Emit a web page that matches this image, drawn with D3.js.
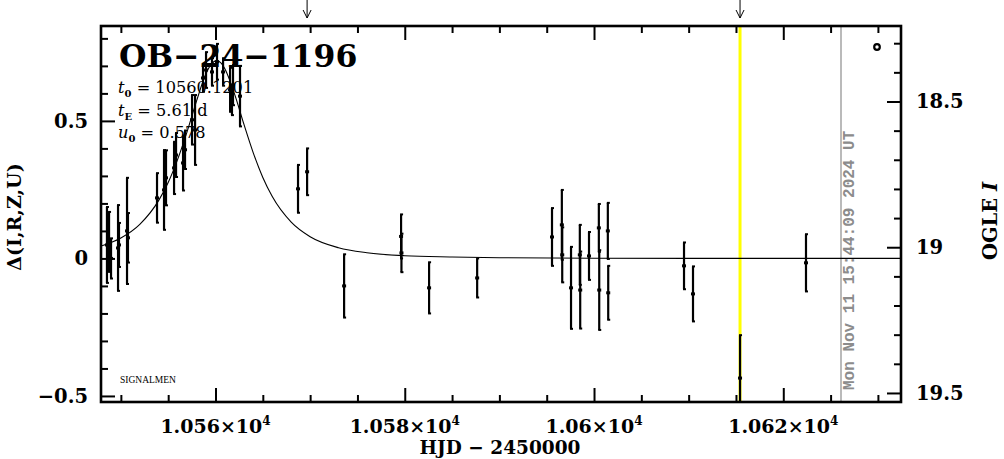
<!DOCTYPE html>
<html><head><meta charset="utf-8">
<script src="https://cdn.jsdelivr.net/npm/d3@7"></script>
<style>body{margin:0;background:#fff} svg{display:block}</style>
</head><body>
<svg id="c" width="1004" height="459"></svg>
<script>
// ---- data ----
const hjd = [10548.53,10548.75,10548.96,10549.70,10549.80,10550.65,10550.75,
  10553.82,10554.56,10554.77,10555.62,10555.83,10556.57,10556.78,10557.52,10557.84,
  10558.68,10559.00,10559.63,10560.16,10560.80,10561.54,10561.74,10561.85,10562.59,
  10568.72,10569.68,10573.59,10579.61,10579.65,10582.57,10587.65,
  10595.56,10596.60,10596.64,10597.57,10598.50,10598.54,10599.47,10600.51,10600.55,10601.46,10601.50,
  10609.51,10610.46,10615.43,10622.40];
const delta = [0.049,0.060,0.000,0.038,0.049,0.100,0.075,
  0.220,0.249,0.293,0.329,0.376,0.347,0.395,0.504,0.467,
  0.656,0.685,0.678,0.715,0.678,0.613,0.576,0.630,0.590,
  0.253,0.315,-0.100,0.080,0.020,-0.107,-0.071,
  0.078,0.122,0.013,-0.107,0.013,-0.115,0.009,0.111,-0.115,0.100,-0.125,
  -0.027,-0.129,-0.435,-0.016];
const err = [0.138,0.109,0.073,0.156,0.080,0.193,0.090,
  0.090,0.145,0.100,0.095,0.080,0.100,0.070,0.090,0.127,
  0.050,0.065,0.050,0.065,0.050,0.080,0.055,0.073,0.110,
  0.087,0.085,0.115,0.080,0.070,0.093,0.071,
  0.105,0.127,0.100,0.149,0.109,0.140,0.087,0.087,0.145,0.102,0.098,
  0.085,0.100,0.156,0.104];
// model curve samples
const modelT = [10547.9,10548,10550,10552,10554,10555,10556,10557,10558,10559,10559.6,10560.12,10560.6,10561,10562,10563,10564,10565,10566,10568,10570,10573,10576,10580,10585,10590,10600,10620,10632.44];
const modelD = [0.0452,0.0463,0.0743,0.1238,0.211,0.276,0.360,0.461,0.573,0.672,0.708,0.719,0.710,0.689,0.599,0.488,0.383,0.2945,0.225,0.132,0.079,0.0389,0.0207,0.0099,0.0054,0.0026,0.0008,0.0001,0];

const xMajor = [10560,10580,10600,10620];
const xMajorLabels = ["1.056","1.058","1.06","1.062"];
const xMinor = [10550,10555,10565,10570,10575,10585,10590,10595,10605,10610,10615,10625,10630];
const yMajor = [-0.5,0,0.5];
const yLabels = ["\u22120.5","0","0.5"];
const yMinor = [-0.4,-0.3,-0.2,-0.1,0.1,0.2,0.3,0.4,0.6,0.7,0.8];
const iMajor = [18.5,19,19.5];
const iLabels = ["18.5","19","19.5"];
const iMinor = [18.3,18.4,18.6,18.7,18.8,18.9,19.1,19.2,19.3,19.4];
const arrowT = [10569.68,10615.43];
const nowT = 10615.43;
const stampT = 10626.1;
const title = "OB\u221224\u22121196";
const params = [["t","0"," = 10560.1201"],["t","E"," = 5.61 d"],["u","0"," = 0.578"]];
const stamp = "Mon Nov 11 15:44:09 2024 UT";

// ---- layout ----
const L=101,R=901,T=26,B=402;
const svg = d3.select("#c");
const x = d3.scaleLinear().domain([10547.9,10632.44]).range([L,R]);
const y = d3.scaleLinear().domain([0.845,-0.522]).range([T,B]);
const yI = d3.scaleLinear().domain([18.241,19.531]).range([T,B]);
const serif = "'DejaVu Serif', serif";

svg.append("defs").append("clipPath").attr("id","pc")
  .append("rect").attr("x",L).attr("y",T).attr("width",R-L).attr("height",B-T);

// yellow "now" line
svg.append("line").attr("x1",x(nowT)).attr("x2",x(nowT)).attr("y1",T).attr("y2",B)
  .attr("stroke","#ffff00").attr("stroke-width",3);
// gray timestamp line
svg.append("line").attr("x1",x(stampT)).attr("x2",x(stampT)).attr("y1",T).attr("y2",B)
  .attr("stroke","#8c8c8c").attr("stroke-width",1.2);
svg.append("text").attr("transform",`translate(${x(stampT)+13},390) rotate(-90)`)
  .attr("font-family","'Liberation Mono', monospace").attr("font-weight","bold")
  .attr("font-size",16).attr("fill","#8c8c8c").text(stamp);

// model curve
const g = svg.append("g").attr("clip-path","url(#pc)");
g.append("path").datum(modelT.map((t,i)=>[t,modelD[i]]))
  .attr("d",d3.line().x(d=>x(d[0])).y(d=>y(d[1])).curve(d3.curveMonotoneX))
  .attr("fill","none").attr("stroke","#000").attr("stroke-width",1.1);

// data with error bars
const pts = hjd.map((t,i)=>({t,d:delta[i],e:err[i]}));
const pg = g.selectAll("g.p").data(pts).enter().append("g");
pg.append("line").attr("x1",d=>x(d.t)).attr("x2",d=>x(d.t))
  .attr("y1",d=>y(d.d+d.e)).attr("y2",d=>y(d.d-d.e))
  .attr("stroke","#000").attr("stroke-width",2.2);
pg.append("line").attr("x1",d=>x(d.t)-1).attr("x2",d=>x(d.t)+2)
  .attr("y1",d=>y(d.d+d.e)).attr("y2",d=>y(d.d+d.e)).attr("stroke","#000").attr("stroke-width",2);
pg.append("line").attr("x1",d=>x(d.t)-1).attr("x2",d=>x(d.t)+2)
  .attr("y1",d=>y(d.d-d.e)).attr("y2",d=>y(d.d-d.e)).attr("stroke","#000").attr("stroke-width",2);
pg.append("rect").attr("x",d=>x(d.t)-2).attr("y",d=>y(d.d)-1.5).attr("width",4).attr("height",3).attr("fill","#000");

// legend circle
svg.append("circle").attr("cx",877).attr("cy",47).attr("r",2.8)
  .attr("fill","none").attr("stroke","#000").attr("stroke-width",2.2);

// ---- axes ticks ----
function ticks(axis, tr, vals, size){
  const a = svg.append("g").attr("transform",tr)
    .call(axis.tickValues(vals).tickSize(size).tickFormat(""));
  a.select(".domain").remove();
  a.selectAll("line").attr("stroke","#000").attr("stroke-width",2);
}
ticks(d3.axisBottom(x), `translate(0,${B})`, xMajor, -14);
ticks(d3.axisBottom(x), `translate(0,${B})`, xMinor, -7);
ticks(d3.axisTop(x), `translate(0,${T})`, xMajor, -14);
ticks(d3.axisTop(x), `translate(0,${T})`, xMinor, -7);
ticks(d3.axisLeft(y), `translate(${L},0)`, yMajor, -14);
ticks(d3.axisLeft(y), `translate(${L},0)`, yMinor, -7);
ticks(d3.axisRight(yI), `translate(${R},0)`, iMajor, -14);
ticks(d3.axisRight(yI), `translate(${R},0)`, iMinor, -7);

// frame
svg.append("rect").attr("x",L).attr("y",T).attr("width",R-L).attr("height",B-T)
  .attr("fill","none").attr("stroke","#000").attr("stroke-width",2.6);

// arrows at top
arrowT.forEach(t=>{
  const ax=x(t);
  svg.append("path").attr("d",`M${ax},0 L${ax},18 M${ax-4},10 L${ax},18 L${ax+4},10`)
    .attr("fill","none").attr("stroke","#000").attr("stroke-width",1);
});

// ---- labels ----
const fs=19.5;
xMajor.forEach((v,i)=>{
  const t = svg.append("text").attr("x",x(v)).attr("y",433).attr("text-anchor","middle")
    .attr("font-family",serif).attr("font-weight","bold").attr("font-size",19);
  t.append("tspan").text(xMajorLabels[i]+"\u00d710");
  t.append("tspan").attr("font-size",12).attr("dy",-8).text("4");
});
yMajor.forEach((v,i)=>{
  svg.append("text").attr("x",88).attr("y",y(v)+7).attr("text-anchor","end")
    .attr("font-family",serif).attr("font-weight","bold").attr("font-size",fs).text(yLabels[i]);
});
iMajor.forEach((v,i)=>{
  svg.append("text").attr("x",916).attr("y",yI(v)+7).attr("text-anchor","start")
    .attr("font-family",serif).attr("font-weight","bold").attr("font-size",fs).text(iLabels[i]);
});
svg.append("text").attr("x",500).attr("y",454).attr("text-anchor","middle")
  .attr("font-family",serif).attr("font-weight","bold").attr("font-size",18.5).text("HJD \u2212 2450000");
svg.append("text").attr("transform","translate(21,217) rotate(-90)").attr("text-anchor","middle")
  .attr("font-family",serif).attr("font-weight","bold").attr("font-size",19).text("\u0394(I,R,Z,U)");
const og = svg.append("text").attr("transform","translate(997,221) rotate(-90)").attr("text-anchor","middle")
  .attr("font-family",serif).attr("font-weight","bold").attr("font-size",fs);
og.append("tspan").text("OGLE ");
og.append("tspan").attr("font-style","italic").text("I");

svg.append("text").attr("x",119).attr("y",67).attr("font-family",serif).attr("font-weight","bold")
  .attr("font-size",31.5).text(title);
params.forEach((p,i)=>{
  const t = svg.append("text").attr("x",118).attr("y",93+i*22.5)
    .attr("font-family",serif).attr("font-size",16.2);
  t.append("tspan").attr("font-style","italic").text(p[0]);
  t.append("tspan").attr("font-size",10).attr("dy",4).attr("font-weight","bold").text(p[1]);
  t.append("tspan").attr("dy",-4).text(p[2]);
});
svg.append("text").attr("x",120).attr("y",383).attr("font-family","'Liberation Serif', serif")
  .attr("font-size",9.5).text("SIGNALMEN");
</script>
</body></html>
